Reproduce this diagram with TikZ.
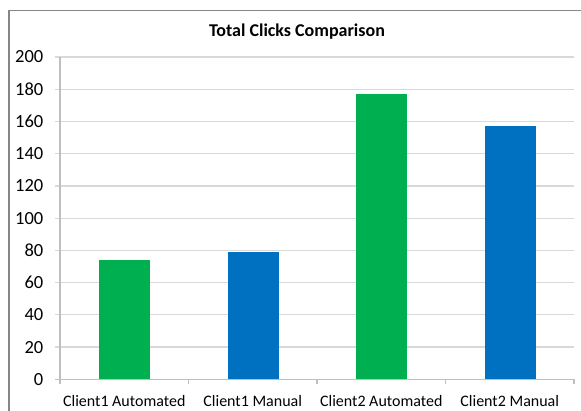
\documentclass[tikz,border=0pt]{standalone}
\usepackage{fontspec}
\setmainfont{Carlito}
\definecolor{bargreen}{HTML}{00B050}
\definecolor{barblue}{HTML}{0070C0}
\definecolor{gridgray}{HTML}{D9D9D9}
\definecolor{axisgray}{HTML}{BFBFBF}
\definecolor{framegray}{HTML}{868686}
\begin{document}
\begin{tikzpicture}[x=1pt,y=-1pt,
  gridline/.style={draw=gridgray,line width=1.2pt},
  axisline/.style={draw=axisgray,line width=1.2pt},
  ticklbl/.style={anchor=east,inner sep=0pt,font=\fontsize{18.5}{18.5}\selectfont},
  catlbl/.style={anchor=base,inner sep=0pt,font=\fontsize{16}{16}\selectfont},
  bar/.style={draw=none}]
\useasboundingbox (0,0) rectangle (581,410);
\fill[white] (0,0) rectangle (581,410);
% frame (cropped at right and bottom)
\draw[framegray,line width=1.3pt] (9,412) -- (9,10.5) -- (583,10.5);
% title
\node[font=\bfseries\fontsize{18}{18}\selectfont,anchor=base] (title) at (297,36) {Total Clicks Comparison};
% grid and tick labels
\foreach \v in {0,20,...,200}{
  \pgfmathsetmacro{\yy}{379.3-1.6115*\v}
  \ifnum\v>0
    \draw[gridline] (55,\yy) -- (574,\yy);
  \fi
  \node[ticklbl] (t\v) at (43.5,\yy) {\v};
}
% axes
\draw[axisline] (60,57) -- (60,384);
\draw[axisline] (55,379.3) -- (574,379.3);
\foreach \x in {188.5,317,445.5,574}{
  \draw[axisline] (\x,379.3) -- (\x,384);
}
% bars
\fill[bargreen] (99,379.3) rectangle (150,{379.3-1.6115*74});
\fill[barblue] (227.5,379.3) rectangle (278.5,{379.3-1.6115*79});
\fill[bargreen] (356,379.3) rectangle (407,{379.3-1.6115*177});
\fill[barblue] (484.5,379.3) rectangle (535.5,{379.3-1.6115*157});
% category labels
\node[catlbl] (c1) at (124.25,406) {Client1 Automated};
\node[catlbl] (c2) at (252.75,406) {Client1 Manual};
\node[catlbl] (c3) at (381.25,406) {Client2 Automated};
\node[catlbl] (c4) at (509.75,406) {Client2 Manual};
\end{tikzpicture}
\end{document}
